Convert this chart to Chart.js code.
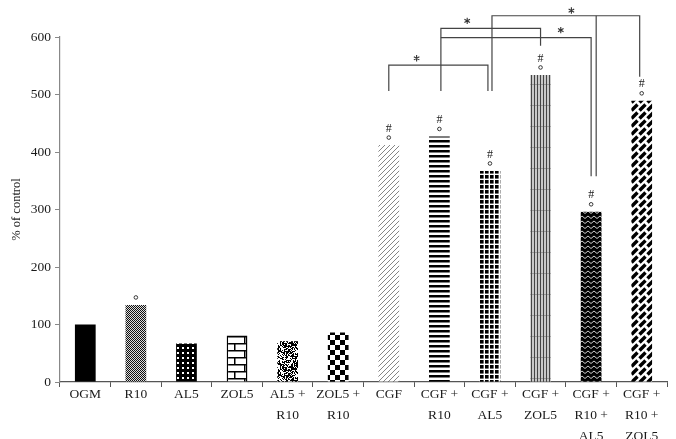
<!DOCTYPE html>
<html>
<head>
<meta charset="utf-8">
<script src="https://cdn.jsdelivr.net/npm/chart.js@4"></script>
<style>
  html, body { margin: 0; padding: 0; background: #fff; }
  #wrap { width: 676px; height: 439px; }
</style>
</head>
<body>
<div id="wrap"><canvas id="chart" width="676" height="439"></canvas></div>
<script>
// groups shown on the x axis
const groups = [
  ['OGM'], ['R10'], ['AL5'], ['ZOL5'], ['AL5 +', 'R10'], ['ZOL5 +', 'R10'],
  ['CGF'], ['CGF +', 'R10'], ['CGF +', 'AL5'], ['CGF +', 'ZOL5'],
  ['CGF +', 'R10 +', 'AL5'], ['CGF +', 'R10 +', 'ZOL5']
];
// % of control
const percentOfControl = [100, 134, 67, 81, 71, 86, 412, 427, 367, 534, 296, 489];
// markers above bars
const circleMark = [false, true, false, false, false, false, true, true, true, true, true, true];
const hashMark = [false, false, false, false, false, false, true, true, true, true, true, true];
// significance brackets, as [category, value] points
const bracketPaths = [
  [[6, 506], [6, 551], [7.96, 551], [7.96, 506]],
  [[7.03, 506], [7.03, 615], [9, 615], [9, 585]],
  [[7.03, 599], [10, 599], [10, 358]],
  [[8.04, 506], [8.04, 637], [10.96, 637], [10.96, 531]],
  [[10.1, 637], [10.1, 358]]
];
const starPoints = [[6.55, 563], [7.55, 628], [9.4, 612], [9.61, 646]];
const yTicks = [0, 100, 200, 300, 400, 500, 600];

// ---- fill patterns ----
function tile(w, h, draw) {
  const c = document.createElement('canvas');
  c.width = w; c.height = h;
  const g = c.getContext('2d');
  draw(g, w, h);
  return g.createPattern(c, 'repeat');
}
let seed = 9731;
function lcg() { seed = (seed * 1103515245 + 12345) & 0x7fffffff; return seed / 0x7fffffff; }

const fills = [
  '#000',
  tile(2, 2, g => { g.fillStyle = '#ddd'; g.fillRect(0, 0, 2, 2); g.fillStyle = '#111'; g.fillRect(0, 0, 1, 1); g.fillRect(1, 1, 1, 1); }),
  tile(5, 5, g => { g.fillStyle = '#000'; g.fillRect(0, 0, 5, 5); g.fillStyle = '#fff'; g.fillRect(2, 2, 2, 2); }),
  tile(20, 14, g => {
    g.fillStyle = '#fff'; g.fillRect(0, 0, 20, 14);
    g.fillStyle = '#000';
    g.fillRect(0, 0, 20, 1.5); g.fillRect(0, 7, 20, 1.5);
    g.fillRect(4, 0, 1.5, 7); g.fillRect(14, 7, 1.5, 7);
  }),
  tile(24, 24, g => {
    g.fillStyle = '#fff'; g.fillRect(0, 0, 24, 24);
    g.fillStyle = '#000';
    for (let y = 0; y < 24; y++) for (let x = 0; x < 24; x++) if (lcg() < 0.55) g.fillRect(x, y, 1, 1);
  }),
  tile(10, 10, g => { g.fillStyle = '#fff'; g.fillRect(0, 0, 10, 10); g.fillStyle = '#000'; g.fillRect(0, 0, 5, 5); g.fillRect(5, 5, 5, 5); }),
  tile(5, 5, g => {
    g.fillStyle = '#fff'; g.fillRect(0, 0, 5, 5);
    g.strokeStyle = '#777'; g.lineWidth = 0.9;
    g.beginPath(); g.moveTo(-1, 6); g.lineTo(6, -1); g.moveTo(-1, 1); g.lineTo(1, -1); g.moveTo(4, 6); g.lineTo(6, 4); g.stroke();
  }),
  tile(4, 5, g => { g.fillStyle = '#fff'; g.fillRect(0, 0, 4, 5); g.fillStyle = '#000'; g.fillRect(0, 0, 4, 2.5); }),
  tile(5, 5, g => { g.fillStyle = '#fff'; g.fillRect(0, 0, 5, 5); g.fillStyle = '#000'; g.fillRect(0, 0, 3.6, 3.6); }),
  tile(3, 21, g => {
    g.fillStyle = '#c8c8c8'; g.fillRect(0, 0, 3, 21);
    g.fillStyle = '#444'; g.fillRect(0, 0, 1, 21);
    g.fillStyle = '#999'; g.fillRect(1, 0, 2, 1);
  }),
  tile(6, 5, g => {
    g.fillStyle = '#000'; g.fillRect(0, 0, 6, 5);
    g.strokeStyle = '#ccc'; g.lineWidth = 1;
    g.beginPath(); g.moveTo(0, 1); g.lineTo(3, 3.5); g.lineTo(6, 1); g.stroke();
  }),
  tile(8, 8, g => {
    g.fillStyle = '#fff'; g.fillRect(0, 0, 8, 8);
    g.strokeStyle = '#000'; g.lineWidth = 3.4; g.lineCap = 'butt';
    g.beginPath();
    for (const dx of [-8, 0, 8]) for (const dy of [-8, 0, 8]) {
      g.moveTo(-0.5 + dx, 6.5 + dy); g.lineTo(5.5 + dx, 0.5 + dy);
    }
    g.stroke();
  })
];
// only the brick bar shows a frame at its sides and top
const borders = percentOfControl.map((v, i) => i === 3 ? { top: 1.5, left: 1.5, right: 1.5, bottom: 0 } : 0);

const SERIF = '"Liberation Serif", "DejaVu Serif", serif';

const marksPlugin = {
  id: 'marks',
  afterDraw(chart) {
    const ctx = chart.ctx;
    const xs = chart.scales.x, ys = chart.scales.y;
    const bars = chart.getDatasetMeta(0).data;
    ctx.save();
    // circle and hash above bars
    bars.forEach((bar, i) => {
      if (circleMark[i]) {
        ctx.beginPath();
        ctx.arc(bar.x, bar.y - 7.5, 1.8, 0, Math.PI * 2);
        ctx.strokeStyle = '#222'; ctx.lineWidth = 0.9; ctx.stroke();
      }
      if (hashMark[i]) {
        ctx.fillStyle = '#222';
        ctx.font = '12px ' + SERIF;
        ctx.textAlign = 'center'; ctx.textBaseline = 'middle';
        ctx.fillText('#', bar.x, bar.y - 16.5);
      }
    });
    // brackets
    ctx.strokeStyle = '#444'; ctx.lineWidth = 1.2;
    bracketPaths.forEach(path => {
      ctx.beginPath();
      path.forEach(([c, v], k) => {
        const px = xs.getPixelForValue(c), py = ys.getPixelForValue(v);
        if (k === 0) ctx.moveTo(px, py); else ctx.lineTo(px, py);
      });
      ctx.stroke();
    });
    // stars
    ctx.strokeStyle = '#333'; ctx.lineWidth = 1.1;
    starPoints.forEach(([c, v]) => {
      const px = xs.getPixelForValue(c), py = ys.getPixelForValue(v);
      ctx.beginPath();
      for (let k = 0; k < 3; k++) {
        const a = Math.PI / 2 + k * Math.PI / 3;
        ctx.moveTo(px - 3.2 * Math.cos(a), py - 3.2 * Math.sin(a));
        ctx.lineTo(px + 3.2 * Math.cos(a), py + 3.2 * Math.sin(a));
      }
      ctx.stroke();
    });
    ctx.restore();
  }
};

new Chart(document.getElementById('chart'), {
  type: 'bar',
  data: {
    labels: groups,
    datasets: [{
      data: percentOfControl,
      backgroundColor: fills,
      borderColor: '#000',
      borderWidth: borders,
      borderSkipped: false,
      barPercentage: 0.41,
      categoryPercentage: 1
    }]
  },
  options: {
    responsive: false,
    animation: false,
    layout: { padding: { top: 37, right: 9, left: 0, bottom: 0 } },
    plugins: { legend: { display: false }, tooltip: { enabled: false } },
    scales: {
      x: {
        grid: { display: true, drawOnChartArea: false, drawTicks: true, tickLength: 5, color: '#555', offset: true },
        border: { color: '#555', width: 1.2 },
        ticks: { color: '#1a1a1a', font: { family: SERIF, size: 13.5, lineHeight: 1.55 }, maxRotation: 0, autoSkip: false, padding: -3 },
        afterFit(scale) { scale.height = 57; }
      },
      y: {
        min: 0, max: 600,
        afterBuildTicks(scale) { scale.ticks = yTicks.map(v => ({ value: v })); },
        grid: { display: true, drawOnChartArea: false, drawTicks: true, tickLength: 5, color: '#888' },
        border: { color: '#888', width: 1.2 },
        ticks: { color: '#1a1a1a', font: { family: SERIF, size: 13.5 }, padding: 4 },
        title: { display: true, text: '% of control', color: '#1a1a1a', font: { family: SERIF, size: 12.5 }, padding: { top: 9, bottom: 0 } },
        afterFit(scale) { scale.width = 60; }
      }
    }
  },
  plugins: [marksPlugin]
});
</script>
</body>
</html>
